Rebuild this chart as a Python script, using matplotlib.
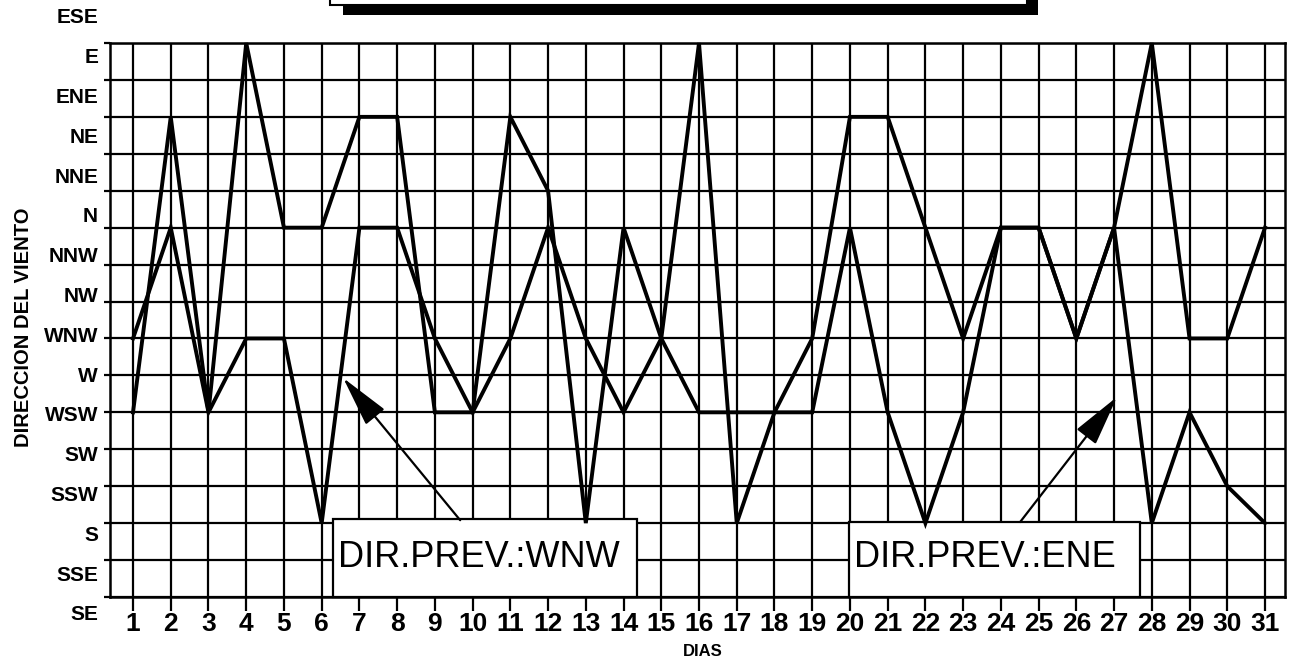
import matplotlib
matplotlib.use('Agg')
import matplotlib.pyplot as plt
from matplotlib.patches import Rectangle

plt.rcParams['font.family'] = ['Liberation Sans', 'DejaVu Sans']

# dias del mes
dias = list(range(1, 32))

# rotulos del eje y, de abajo (SE) hacia arriba (ESE)
rumbos = ['SE', 'SSE', 'S', 'SSW', 'SW', 'WSW', 'W', 'WNW', 'NW', 'NNW',
          'N', 'NNE', 'NE', 'ENE', 'E', 'ESE']

# indice de la linea de rejilla alcanzada cada dia (0 = borde inferior)
serie_a = [5, 13, 5, 15, 10, 10, 13, 13, 5, 5, 13, 11, 2, 10, 7, 15,
           2, 5, 7, 13, 13, 10, 7, 10, 10, 7, 10, 15, 7, 7, 10]
serie_b = [7, 10, 5, 7, 7, 2, 10, 10, 7, 5, 7, 10, 7, 5, 7, 5,
           5, 5, 5, 10, 5, 2, 5, 10, 10, 7, 10, 2, 5, 3, 2]

# recuadros de direccion prevaleciente: texto, caja (x0, x1, alto), flecha (cola, punta)
notas = [('DIR.PREV.:WNW', (6.30, 14.36, 2.10), (9.67, 2.08), (6.57, 5.93)),
         ('DIR.PREV.:ENE', (19.97, 27.69, 2.03), (24.51, 2.03), (27.08, 5.42))]

W, H = 1290, 672
fig = plt.figure(figsize=(W / 100, H / 100), dpi=100)
ax = fig.add_axes([110 / W, 75 / H, 1175 / W, 554 / H])

for serie in (serie_a, serie_b):
    ax.plot(dias, serie, color='k', lw=2.8, zorder=3, clip_on=False,
            solid_joinstyle='miter')

ax.set_xlim(0.39, 31.53)
ax.set_ylim(0, 15)
ax.set_xticks(dias)
ax.set_xticklabels([str(d) for d in dias], fontsize=19, fontweight='bold')
ax.set_yticks(range(len(rumbos)))
ax.set_yticklabels([])
ax.grid(True, color='k', lw=1.6)
ax.set_axisbelow(True)
ax.tick_params(axis='x', length=10, width=1.6, pad=1)
ax.tick_params(axis='y', length=4, width=1.6)
for s in ax.spines.values():
    s.set_linewidth(1.8)

# rotulos de rumbo, espaciados un poco mas que la rejilla (como en el original)
for i, r in enumerate(rumbos):
    ax.text(-0.0102, -0.487 + i * 1.078, r, transform=ax.get_yaxis_transform(),
            ha='right', va='center', fontsize=15, fontweight='bold', clip_on=False)

for texto, (x0, x1, alto), cola, punta in notas:
    ax.add_patch(Rectangle((x0, 0), x1 - x0, alto, facecolor='white', edgecolor='k',
                           lw=1.6, zorder=2.5, clip_on=False))
    ax.text(x0 + 0.14, 1.08, texto, fontsize=26, ha='left', va='center', zorder=4)
    ax.annotate('', xy=punta, xytext=cola, zorder=4,
                arrowprops=dict(arrowstyle='-|>,head_length=1.6,head_width=0.38',
                                mutation_scale=20, color='k', lw=1.6,
                                shrinkA=0, shrinkB=0))

fig.text(24 / W, 1 - 327 / H, 'DIRECCION DEL VIENTO', rotation=90, ha='center',
         va='center', fontsize=14.5, fontweight='bold')
fig.text(703 / W, 1 - 651 / H, 'DIAS', ha='center', va='center', fontsize=12,
         fontweight='bold')

# caja del titulo, cortada en el borde superior
fig.add_artist(Rectangle((343 / W, 1 - 15 / H), (1038 - 343) / W, 0.1,
                         transform=fig.transFigure, facecolor='k'))
fig.add_artist(Rectangle((330 / W, 1 - 5 / H), (1027 - 330) / W, 0.1,
                         transform=fig.transFigure, facecolor='white',
                         edgecolor='k', lw=1.5))

fig.savefig('out.png', dpi=100)
